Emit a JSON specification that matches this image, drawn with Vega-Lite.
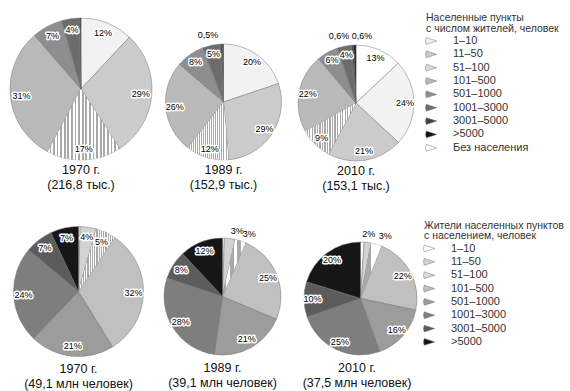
{
  "$schema": "https://vega.github.io/schema/vega-lite/v6.json",
  "padding": {"left": 9, "top": 13, "right": 0, "bottom": 0},
  "params": [
    {"name": "stripeGrad", "value": {"gradient": "linear", "x1": 0, "y1": 0, "x2": 1, "y2": 0, "stops": [
      {"offset": 0, "color": "#ffffff"}, {"offset": 0.025, "color": "#ffffff"}, {"offset": 0.025, "color": "#a8a8a8"}, {"offset": 0.05, "color": "#a8a8a8"},
      {"offset": 0.05, "color": "#ffffff"}, {"offset": 0.075, "color": "#ffffff"}, {"offset": 0.075, "color": "#a8a8a8"}, {"offset": 0.1, "color": "#a8a8a8"},
      {"offset": 0.1, "color": "#ffffff"}, {"offset": 0.125, "color": "#ffffff"}, {"offset": 0.125, "color": "#a8a8a8"}, {"offset": 0.15, "color": "#a8a8a8"},
      {"offset": 0.15, "color": "#ffffff"}, {"offset": 0.175, "color": "#ffffff"}, {"offset": 0.175, "color": "#a8a8a8"}, {"offset": 0.2, "color": "#a8a8a8"},
      {"offset": 0.2, "color": "#ffffff"}, {"offset": 0.225, "color": "#ffffff"}, {"offset": 0.225, "color": "#a8a8a8"}, {"offset": 0.25, "color": "#a8a8a8"},
      {"offset": 0.25, "color": "#ffffff"}, {"offset": 0.275, "color": "#ffffff"}, {"offset": 0.275, "color": "#a8a8a8"}, {"offset": 0.3, "color": "#a8a8a8"},
      {"offset": 0.3, "color": "#ffffff"}, {"offset": 0.325, "color": "#ffffff"}, {"offset": 0.325, "color": "#a8a8a8"}, {"offset": 0.35, "color": "#a8a8a8"},
      {"offset": 0.35, "color": "#ffffff"}, {"offset": 0.375, "color": "#ffffff"}, {"offset": 0.375, "color": "#a8a8a8"}, {"offset": 0.4, "color": "#a8a8a8"},
      {"offset": 0.4, "color": "#ffffff"}, {"offset": 0.425, "color": "#ffffff"}, {"offset": 0.425, "color": "#a8a8a8"}, {"offset": 0.45, "color": "#a8a8a8"},
      {"offset": 0.45, "color": "#ffffff"}, {"offset": 0.475, "color": "#ffffff"}, {"offset": 0.475, "color": "#a8a8a8"}, {"offset": 0.5, "color": "#a8a8a8"},
      {"offset": 0.5, "color": "#ffffff"}, {"offset": 0.525, "color": "#ffffff"}, {"offset": 0.525, "color": "#a8a8a8"}, {"offset": 0.55, "color": "#a8a8a8"},
      {"offset": 0.55, "color": "#ffffff"}, {"offset": 0.575, "color": "#ffffff"}, {"offset": 0.575, "color": "#a8a8a8"}, {"offset": 0.6, "color": "#a8a8a8"},
      {"offset": 0.6, "color": "#ffffff"}, {"offset": 0.625, "color": "#ffffff"}, {"offset": 0.625, "color": "#a8a8a8"}, {"offset": 0.65, "color": "#a8a8a8"},
      {"offset": 0.65, "color": "#ffffff"}, {"offset": 0.675, "color": "#ffffff"}, {"offset": 0.675, "color": "#a8a8a8"}, {"offset": 0.7, "color": "#a8a8a8"},
      {"offset": 0.7, "color": "#ffffff"}, {"offset": 0.725, "color": "#ffffff"}, {"offset": 0.725, "color": "#a8a8a8"}, {"offset": 0.75, "color": "#a8a8a8"},
      {"offset": 0.75, "color": "#ffffff"}, {"offset": 0.775, "color": "#ffffff"}, {"offset": 0.775, "color": "#a8a8a8"}, {"offset": 0.8, "color": "#a8a8a8"},
      {"offset": 0.8, "color": "#ffffff"}, {"offset": 0.825, "color": "#ffffff"}, {"offset": 0.825, "color": "#a8a8a8"}, {"offset": 0.85, "color": "#a8a8a8"},
      {"offset": 0.85, "color": "#ffffff"}, {"offset": 0.875, "color": "#ffffff"}, {"offset": 0.875, "color": "#a8a8a8"}, {"offset": 0.9, "color": "#a8a8a8"},
      {"offset": 0.9, "color": "#ffffff"}, {"offset": 0.925, "color": "#ffffff"}, {"offset": 0.925, "color": "#a8a8a8"}, {"offset": 0.95, "color": "#a8a8a8"},
      {"offset": 0.95, "color": "#ffffff"}, {"offset": 0.975, "color": "#ffffff"}, {"offset": 0.975, "color": "#a8a8a8"}, {"offset": 1, "color": "#a8a8a8"}
    ]}}
  ],
  "config": {
    "font": "Liberation Sans",
    "view": {"stroke": null},
    "title": {"orient": "bottom", "fontSize": 12.5, "fontWeight": "normal", "color": "#111", "lineHeight": 15, "anchor": "middle"},
    "legend": {"titleFontSize": 10.5, "titleFontWeight": "normal", "titleColor": "#333", "titleLineHeight": 10.5, "titleLimit": 300, "labelFontSize": 11, "labelColor": "#333", "symbolType": "M1,0L-1,-0.65Q-1.3,0,-1,0.65Z", "symbolSize": 110, "symbolStrokeColor": "#777", "symbolStrokeWidth": 0.6, "labelOffset": 16, "rowPadding": 1.35, "titlePadding": 1.5, "padding": 0},
    "style": {
      "pie": {"stroke": "#777", "strokeWidth": 0.5},
      "halo": {"fill": "#ffffff", "stroke": "#ffffff", "strokeWidth": 3, "strokeJoin": "round", "fontSize": 9},
      "lab": {"fill": "#111111", "fontSize": 9}
    }
  },
  "datasets": {
    "top": [
      {"year": 1970, "cat": "1–10", "k": 1, "v": 12, "label": "12%"},
      {"year": 1970, "cat": "11–50", "k": 2, "v": 29, "label": "29%"},
      {"year": 1970, "cat": "51–100", "k": 3, "v": 17, "label": "17%"},
      {"year": 1970, "cat": "101–500", "k": 4, "v": 31, "label": "31%"},
      {"year": 1970, "cat": "501–1000", "k": 5, "v": 7, "label": "7%"},
      {"year": 1970, "cat": "1001–3000", "k": 6, "v": 4, "label": "4%"},
      {"year": 1970, "cat": "3001–5000", "k": 7, "v": 0.2, "label": ""},
      {"year": 1970, "cat": ">5000", "k": 8, "v": 0.2, "label": ""},
      {"year": 1989, "cat": "1–10", "k": 1, "v": 20, "label": "20%"},
      {"year": 1989, "cat": "11–50", "k": 2, "v": 29, "label": "29%"},
      {"year": 1989, "cat": "51–100", "k": 3, "v": 12, "label": "12%"},
      {"year": 1989, "cat": "101–500", "k": 4, "v": 26, "label": "26%"},
      {"year": 1989, "cat": "501–1000", "k": 5, "v": 8, "label": "8%"},
      {"year": 1989, "cat": "1001–3000", "k": 6, "v": 5, "label": "5%"},
      {"year": 1989, "cat": "3001–5000", "k": 7, "v": 0.5, "label": "0,5%"},
      {"year": 1989, "cat": ">5000", "k": 8, "v": 0.3, "label": ""},
      {"year": 2010, "cat": "Без населения", "k": 0, "v": 13, "label": "13%"},
      {"year": 2010, "cat": "1–10", "k": 1, "v": 24, "label": "24%"},
      {"year": 2010, "cat": "11–50", "k": 2, "v": 21, "label": "21%"},
      {"year": 2010, "cat": "51–100", "k": 3, "v": 9, "label": "9%"},
      {"year": 2010, "cat": "101–500", "k": 4, "v": 22, "label": "22%"},
      {"year": 2010, "cat": "501–1000", "k": 5, "v": 6, "label": "6%"},
      {"year": 2010, "cat": "1001–3000", "k": 6, "v": 4, "label": "4%"},
      {"year": 2010, "cat": "3001–5000", "k": 7, "v": 0.6, "label": "0,6%"},
      {"year": 2010, "cat": ">5000", "k": 8, "v": 0.6, "label": "0,6%"}
    ],
    "bot": [
      {"year": 1970, "cat": "1–10", "k": 1, "v": 0.4, "label": ""},
      {"year": 1970, "cat": "11–50", "k": 2, "v": 4, "label": "4%"},
      {"year": 1970, "cat": "51–100", "k": 3, "v": 5, "label": "5%"},
      {"year": 1970, "cat": "101–500", "k": 4, "v": 32, "label": "32%"},
      {"year": 1970, "cat": "501–1000", "k": 5, "v": 21, "label": "21%"},
      {"year": 1970, "cat": "1001–3000", "k": 6, "v": 24, "label": "24%"},
      {"year": 1970, "cat": "3001–5000", "k": 7, "v": 7, "label": "7%"},
      {"year": 1970, "cat": ">5000", "k": 8, "v": 7, "label": "7%"},
      {"year": 1989, "cat": "1–10", "k": 1, "v": 0.5, "label": ""},
      {"year": 1989, "cat": "11–50", "k": 2, "v": 3, "label": "3%"},
      {"year": 1989, "cat": "51–100", "k": 3, "v": 3, "label": "3%"},
      {"year": 1989, "cat": "101–500", "k": 4, "v": 25, "label": "25%"},
      {"year": 1989, "cat": "501–1000", "k": 5, "v": 21, "label": "21%"},
      {"year": 1989, "cat": "1001–3000", "k": 6, "v": 28, "label": "28%"},
      {"year": 1989, "cat": "3001–5000", "k": 7, "v": 8, "label": "8%"},
      {"year": 1989, "cat": ">5000", "k": 8, "v": 12, "label": "12%"},
      {"year": 2010, "cat": "1–10", "k": 1, "v": 1, "label": ""},
      {"year": 2010, "cat": "11–50", "k": 2, "v": 2, "label": "2%"},
      {"year": 2010, "cat": "51–100", "k": 3, "v": 3, "label": "3%"},
      {"year": 2010, "cat": "101–500", "k": 4, "v": 22, "label": "22%"},
      {"year": 2010, "cat": "501–1000", "k": 5, "v": 16, "label": "16%"},
      {"year": 2010, "cat": "1001–3000", "k": 6, "v": 25, "label": "25%"},
      {"year": 2010, "cat": "3001–5000", "k": 7, "v": 10, "label": "10%"},
      {"year": 2010, "cat": ">5000", "k": 8, "v": 20, "label": "20%"}
    ]
  },
  "spacing": 208.5,
  "bounds": "flush",
  "resolve": {"scale": {"color": "independent"}, "legend": {"color": "independent"}},
  "vconcat": [
    {
      "data": {"name": "top"},
      "spacing": 5,
      "bounds": "flush",
      "hconcat": [
        {
          "width": 142, "height": 142,
          "title": {"text": ["1970 г.", "(216,8 тыс.)"], "offset": 3},
          "transform": [{"filter": "datum.year == 1970"}],
          "encoding": {"theta": {"field": "v", "type": "quantitative", "stack": true}, "order": {"field": "k", "type": "quantitative"}, "detail": {"field": "cat"}},
          "layer": [
            {"mark": {"type": "arc", "style": "pie", "outerRadius": 71}, "encoding": {"color": {"field": "cat", "type": "nominal", "scale": {"domain": ["1–10", "11–50", "51–100", "101–500", "501–1000", "1001–3000", "3001–5000", ">5000", "Без населения"], "range": ["#f2f2f2", "#cbcbcb", "#dadada", "#b9b9b9", "#8e8e8e", "#6c6c6c", "#444444", "#111111", "#ffffff"]}, "legend": {"title": ["Населенные пункты", "с числом жителей, человек"], "orient": "none", "legendX": 416, "legendY": -5}}}},
            {"mark": {"type": "arc", "fill": {"expr": "stripeGrad"}, "strokeWidth": 0, "outerRadius": 71}, "encoding": {"fillOpacity": {"condition": {"test": "datum.cat === '51–100'", "value": 1}, "value": 0}}},
            {"mark": {"type": "text", "style": "halo", "radius": 60}, "encoding": {"text": {"condition": {"test": "datum.v >= 3.5", "field": "label"}, "value": ""}}},
            {"mark": {"type": "text", "style": "lab", "radius": 60}, "encoding": {"text": {"condition": {"test": "datum.v >= 3.5", "field": "label"}, "value": ""}}}
          ]
        },
        {
          "width": 133, "height": 142,
          "title": {"text": ["1989 г.", "(152,9 тыс.)"], "offset": 3},
          "transform": [{"filter": "datum.year == 1989"}],
          "encoding": {"theta": {"field": "v", "type": "quantitative", "stack": true}, "order": {"field": "k", "type": "quantitative"}, "detail": {"field": "cat"}},
          "layer": [
            {"mark": {"type": "arc", "style": "pie", "outerRadius": 58, "yOffset": 13}, "encoding": {"color": {"field": "cat", "type": "nominal", "scale": {"domain": ["1–10", "11–50", "51–100", "101–500", "501–1000", "1001–3000", "3001–5000", ">5000", "Без населения"], "range": ["#f2f2f2", "#cbcbcb", "#dadada", "#b9b9b9", "#8e8e8e", "#6c6c6c", "#444444", "#111111", "#ffffff"]}, "legend": {"title": ["Населенные пункты", "с числом жителей, человек"], "orient": "none", "legendX": 416, "legendY": -5}}}},
            {"mark": {"type": "arc", "fill": {"expr": "stripeGrad"}, "strokeWidth": 0, "outerRadius": 58, "yOffset": 13}, "encoding": {"fillOpacity": {"condition": {"test": "datum.cat === '51–100'", "value": 1}, "value": 0}}},
            {"mark": {"type": "text", "style": "halo", "radius": 49, "yOffset": 13}, "encoding": {"text": {"condition": {"test": "datum.v >= 3.5", "field": "label"}, "value": ""}}},
            {"mark": {"type": "text", "style": "lab", "radius": 49, "yOffset": 13}, "encoding": {"text": {"condition": {"test": "datum.v >= 3.5", "field": "label"}, "value": ""}}},
            {"mark": {"type": "text", "style": "halo", "clip": true, "radius": 67, "yOffset": 13, "dx": -3, "align": {"expr": "datum.cat === '>5000' ? 'left' : 'right'"}}, "encoding": {"text": {"condition": {"test": "datum.v < 3.5", "field": "label"}, "value": ""}}},
            {"mark": {"type": "text", "style": "lab", "clip": true, "radius": 67, "yOffset": 13, "dx": -3, "align": {"expr": "datum.cat === '>5000' ? 'left' : 'right'"}}, "encoding": {"text": {"condition": {"test": "datum.v < 3.5", "field": "label"}, "value": ""}}}
          ]
        },
        {
          "width": 122, "height": 142,
          "title": {"text": ["2010 г.", "(153,1 тыс.)"], "offset": 3},
          "transform": [{"filter": "datum.year == 2010"}],
          "encoding": {"theta": {"field": "v", "type": "quantitative", "stack": true}, "order": {"field": "k", "type": "quantitative"}, "detail": {"field": "cat"}},
          "layer": [
            {"mark": {"type": "arc", "style": "pie", "outerRadius": 58, "yOffset": 14}, "encoding": {"color": {"field": "cat", "type": "nominal", "scale": {"domain": ["1–10", "11–50", "51–100", "101–500", "501–1000", "1001–3000", "3001–5000", ">5000", "Без населения"], "range": ["#f2f2f2", "#cbcbcb", "#dadada", "#b9b9b9", "#8e8e8e", "#6c6c6c", "#444444", "#111111", "#ffffff"]}, "legend": {"title": ["Населенные пункты", "с числом жителей, человек"], "orient": "none", "legendX": 416, "legendY": -5}}}},
            {"mark": {"type": "arc", "fill": {"expr": "stripeGrad"}, "strokeWidth": 0, "outerRadius": 58, "yOffset": 14}, "encoding": {"fillOpacity": {"condition": {"test": "datum.cat === '51–100'", "value": 1}, "value": 0}}},
            {"mark": {"type": "text", "style": "halo", "radius": 49, "yOffset": 14}, "encoding": {"text": {"condition": {"test": "datum.v >= 3.5", "field": "label"}, "value": ""}}},
            {"mark": {"type": "text", "style": "lab", "radius": 49, "yOffset": 14}, "encoding": {"text": {"condition": {"test": "datum.v >= 3.5", "field": "label"}, "value": ""}}},
            {"mark": {"type": "text", "style": "halo", "clip": true, "radius": 67, "yOffset": 14, "dx": -3, "align": {"expr": "datum.cat === '>5000' ? 'left' : 'right'"}}, "encoding": {"text": {"condition": {"test": "datum.v < 3.5", "field": "label"}, "value": ""}}},
            {"mark": {"type": "text", "style": "lab", "clip": true, "radius": 67, "yOffset": 14, "dx": -3, "align": {"expr": "datum.cat === '>5000' ? 'left' : 'right'"}}, "encoding": {"text": {"condition": {"test": "datum.v < 3.5", "field": "label"}, "value": ""}}}
          ]
        }
      ]
    },
    {
      "data": {"name": "bot"},
      "spacing": 5,
      "bounds": "flush",
      "hconcat": [
        {
          "width": 137, "height": 130,
          "title": {"text": ["1970 г.", "(49,1 млн человек)"], "offset": 5.5},
          "transform": [{"filter": "datum.year == 1970"}],
          "encoding": {"theta": {"field": "v", "type": "quantitative", "stack": true}, "order": {"field": "k", "type": "quantitative"}, "detail": {"field": "cat"}},
          "layer": [
            {"mark": {"type": "arc", "style": "pie", "outerRadius": 65}, "encoding": {"color": {"field": "cat", "type": "nominal", "scale": {"domain": ["1–10", "11–50", "51–100", "101–500", "501–1000", "1001–3000", "3001–5000", ">5000"], "range": ["#ffffff", "#d2d2d2", "#dadada", "#c0c0c0", "#9c9c9c", "#7e7e7e", "#5c5c5c", "#161616"]}, "legend": {"title": ["Жители населенных пунктов", "с населением, человек"], "orient": "none", "legendX": 414, "legendY": -6}}}},
            {"mark": {"type": "arc", "fill": {"expr": "stripeGrad"}, "strokeWidth": 0, "outerRadius": 65}, "encoding": {"fillOpacity": {"condition": {"test": "datum.cat === '51–100'", "value": 1}, "value": 0}}},
            {"mark": {"type": "text", "style": "halo", "radius": 55}, "encoding": {"text": {"condition": {"test": "datum.v >= 3.5", "field": "label"}, "value": ""}}},
            {"mark": {"type": "text", "style": "lab", "radius": 55}, "encoding": {"text": {"condition": {"test": "datum.v >= 3.5", "field": "label"}, "value": ""}}}
          ]
        },
        {
          "width": 141, "height": 130,
          "title": {"text": ["1989 г.", "(39,1 млн человек)"], "offset": 5.5},
          "transform": [{"filter": "datum.year == 1989"}],
          "encoding": {"theta": {"field": "v", "type": "quantitative", "stack": true}, "order": {"field": "k", "type": "quantitative"}, "detail": {"field": "cat"}},
          "layer": [
            {"mark": {"type": "arc", "style": "pie", "outerRadius": 58.5, "yOffset": 5}, "encoding": {"color": {"field": "cat", "type": "nominal", "scale": {"domain": ["1–10", "11–50", "51–100", "101–500", "501–1000", "1001–3000", "3001–5000", ">5000"], "range": ["#ffffff", "#d2d2d2", "#dadada", "#c0c0c0", "#9c9c9c", "#7e7e7e", "#5c5c5c", "#161616"]}, "legend": {"title": ["Жители населенных пунктов", "с населением, человек"], "orient": "none", "legendX": 414, "legendY": -6}}}},
            {"mark": {"type": "arc", "fill": {"expr": "stripeGrad"}, "strokeWidth": 0, "outerRadius": 58.5, "yOffset": 5}, "encoding": {"fillOpacity": {"condition": {"test": "datum.cat === '51–100'", "value": 1}, "value": 0}}},
            {"mark": {"type": "text", "style": "halo", "radius": 49, "yOffset": 5}, "encoding": {"text": {"condition": {"test": "datum.v >= 3.5", "field": "label"}, "value": ""}}},
            {"mark": {"type": "text", "style": "lab", "radius": 49, "yOffset": 5}, "encoding": {"text": {"condition": {"test": "datum.v >= 3.5", "field": "label"}, "value": ""}}},
            {"mark": {"type": "text", "style": "halo", "clip": true, "radius": 66, "yOffset": 5, "align": "left"}, "encoding": {"text": {"condition": {"test": "datum.v < 3.5", "field": "label"}, "value": ""}}},
            {"mark": {"type": "text", "style": "lab", "clip": true, "radius": 66, "yOffset": 5, "align": "left"}, "encoding": {"text": {"condition": {"test": "datum.v < 3.5", "field": "label"}, "value": ""}}}
          ]
        },
        {
          "width": 118, "height": 130,
          "title": {"text": ["2010 г.", "(37,5 млн человек)"], "offset": 5.5},
          "transform": [{"filter": "datum.year == 2010"}],
          "encoding": {"theta": {"field": "v", "type": "quantitative", "stack": true}, "order": {"field": "k", "type": "quantitative"}, "detail": {"field": "cat"}},
          "layer": [
            {"mark": {"type": "arc", "style": "pie", "outerRadius": 56.5, "xOffset": 3.5, "yOffset": 7}, "encoding": {"color": {"field": "cat", "type": "nominal", "scale": {"domain": ["1–10", "11–50", "51–100", "101–500", "501–1000", "1001–3000", "3001–5000", ">5000"], "range": ["#ffffff", "#d2d2d2", "#dadada", "#c0c0c0", "#9c9c9c", "#7e7e7e", "#5c5c5c", "#161616"]}, "legend": {"title": ["Жители населенных пунктов", "с населением, человек"], "orient": "none", "legendX": 414, "legendY": -6}}}},
            {"mark": {"type": "arc", "fill": {"expr": "stripeGrad"}, "strokeWidth": 0, "outerRadius": 56.5, "xOffset": 3.5, "yOffset": 7}, "encoding": {"fillOpacity": {"condition": {"test": "datum.cat === '51–100'", "value": 1}, "value": 0}}},
            {"mark": {"type": "text", "style": "halo", "radius": 48, "xOffset": 3.5, "yOffset": 7}, "encoding": {"text": {"condition": {"test": "datum.v >= 3.5", "field": "label"}, "value": ""}}},
            {"mark": {"type": "text", "style": "lab", "radius": 48, "xOffset": 3.5, "yOffset": 7}, "encoding": {"text": {"condition": {"test": "datum.v >= 3.5", "field": "label"}, "value": ""}}},
            {"mark": {"type": "text", "style": "halo", "clip": true, "radius": 65, "xOffset": 3.5, "yOffset": 7, "align": {"expr": "datum.cat === '11–50' ? 'center' : 'left'"}}, "encoding": {"text": {"condition": {"test": "datum.v < 3.5", "field": "label"}, "value": ""}}},
            {"mark": {"type": "text", "style": "lab", "clip": true, "radius": 65, "xOffset": 3.5, "yOffset": 7, "align": {"expr": "datum.cat === '11–50' ? 'center' : 'left'"}}, "encoding": {"text": {"condition": {"test": "datum.v < 3.5", "field": "label"}, "value": ""}}}
          ]
        }
      ]
    }
  ]
}
